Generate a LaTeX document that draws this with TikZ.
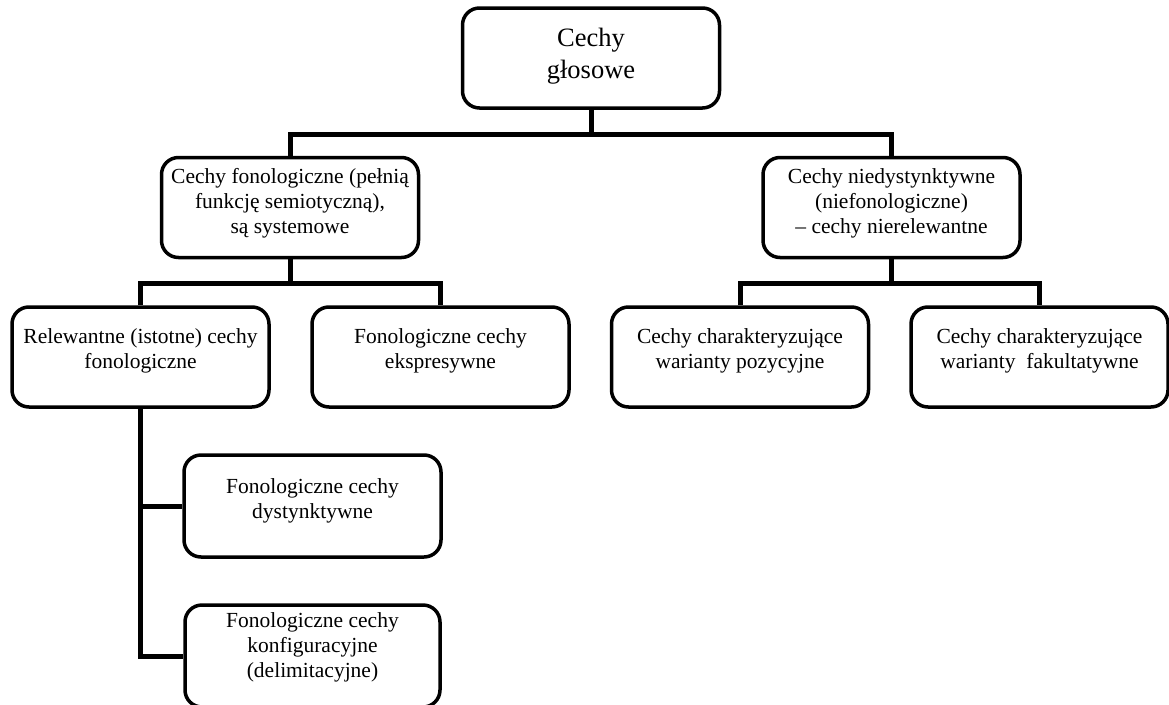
\documentclass[tikz,border=0pt]{standalone}
\usepackage{fontspec}
\setmainfont{Liberation Serif}

\begin{document}
\begin{tikzpicture}[x=1pt, y=-1pt,
    box/.style={draw, line width=3.5pt, rounded corners=17pt, minimum width=257pt, minimum height=100pt},
    txt/.style={align=center, font=\fontsize{21.5}{25}\selectfont},
    conn/.style={line width=5pt}]
  \useasboundingbox (0,0) rectangle (1169,704);

  % Prostokąty
  \node[box] (glos) at (591,58) {};
  \node[box] (fon) at (290,207.5) {};
  \node[box] (niedys) at (891.5,207.5) {};
  \node[box] (relew) at (140.5,357) {};
  \node[box] (ekspr) at (440.5,357) {};
  \node[box] (pozyc) at (740,357) {};
  \node[box] (fakul) at (1039.5,357) {};
  \node[box, minimum height=102pt] (dystyn) at (312.5,506) {};
  \node[box, minimum width=255pt, minimum height=102pt] (konfig) at (312.5,656) {};

  % Napisy
  \node[txt, font=\fontsize{26.5}{32}\selectfont] (glosT) at ([yshift=2pt]glos.center) {Cechy\\głosowe};
  \node[txt] (fonT) at ([yshift=4.5pt]fon.center) {Cechy fonologiczne (pełnią\\funkcję semiotyczną),\\są systemowe};
  \node[txt] (niedysT) at ([yshift=4.5pt]niedys.center) {Cechy niedystynktywne\\(niefonologiczne)\\– cechy nierelewantne};
  \node[txt] (relewT) at ([yshift=6pt]relew.center) {Relewantne (istotne) cechy\\fonologiczne};
  \node[txt] (eksprT) at ([yshift=6pt]ekspr.center) {Fonologiczne cechy\\ekspresywne};
  \node[txt] (pozycT) at ([yshift=6pt]pozyc.center) {Cechy charakteryzujące\\warianty pozycyjne};
  \node[txt] (fakulT) at ([yshift=6pt]fakul.center) {Cechy charakteryzujące\\warianty~ fakultatywne};
  \node[txt] (dystynT) at ([yshift=5pt]dystyn.center) {Fonologiczne cechy\\dystynktywne};
  \node[txt] (konfigT) at ([yshift=9pt]konfig.center) {Fonologiczne cechy\\konfiguracyjne\\(delimitacyjne)};

  % Połączenia
  \coordinate (w1) at (591,134);
  \coordinate (w2) at (290,283);
  \coordinate (w3) at (891.5,283);
  \draw[conn] (glos.south) -- (w1);
  \draw[conn] (fon.north) |- (w1) -| (niedys.north);
  \draw[conn] (fon.south) -- (w2);
  \draw[conn] (relew.north) |- (w2) -| (ekspr.north);
  \draw[conn] (niedys.south) -- (w3);
  \draw[conn] (pozyc.north) |- (w3) -| (fakul.north);
  \draw[conn] (relew.south) |- (konfig.west);
  \draw[conn] (dystyn.west) -- (dystyn.west -| relew.south);
\end{tikzpicture}
\end{document}
